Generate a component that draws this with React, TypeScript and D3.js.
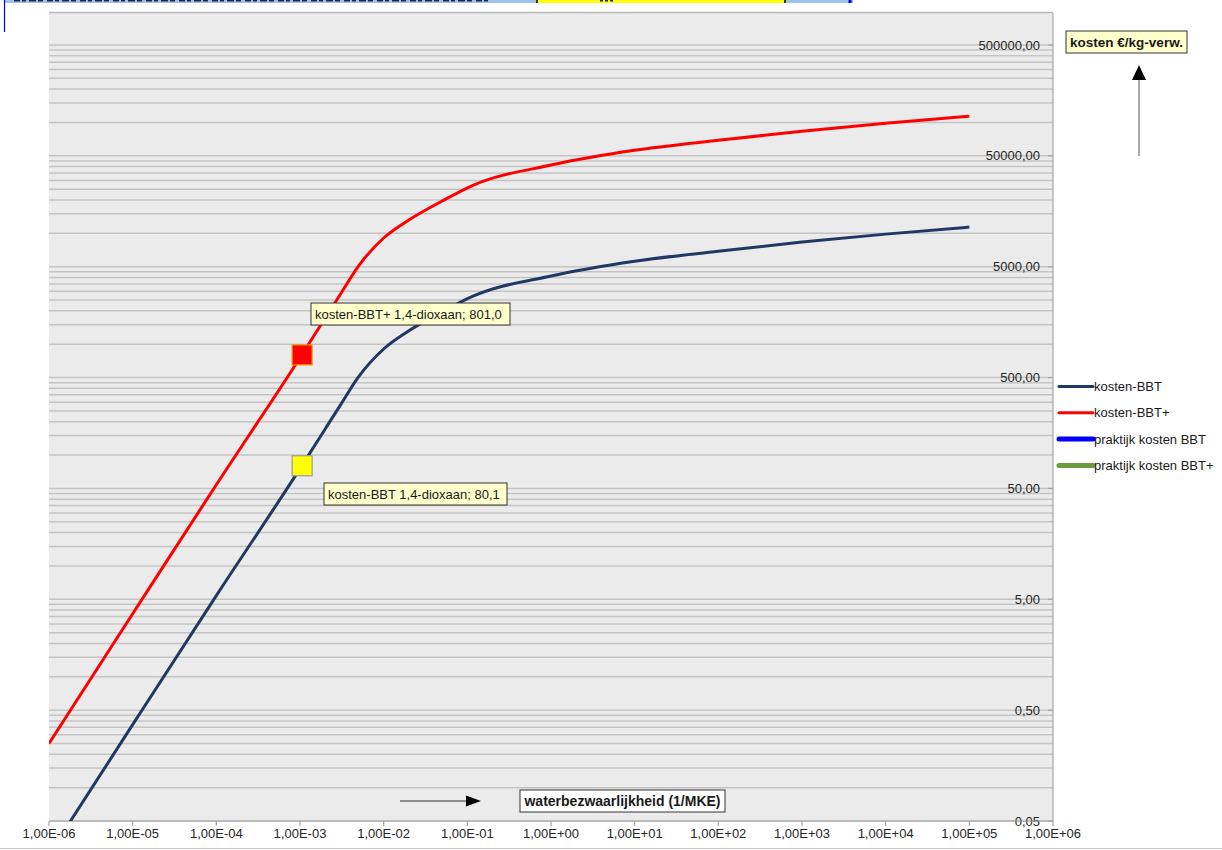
import React from "react";
import * as d3 from "d3";

// ---- data ----
const xValues = [1e-6, 1e-5, 1e-4, 1e-3, 2e-3, 3e-3, 5e-3, 1e-2, 2e-2, 5e-2, 1.15e-1, 1, 10, 100, 1000, 1e4, 1e5];
const kostenBBTplus = [0.25, 3.7, 54, 755, 1722, 2780, 5070, 9075, 13190, 19580, 27000, 41300, 56100, 69000, 83400, 98400, 113800];
const kostenBBT = [0.025, 0.37, 5.4, 75.5, 172, 278, 507, 905, 1320, 1960, 2700, 4130, 5610, 6900, 8340, 9840, 11380];

const markerBBTplus = { x: 1.06e-3, v: 801.0, label: "kosten-BBT+ 1,4-dioxaan; 801,0" };
const markerBBT = { x: 1.06e-3, v: 80.1, label: "kosten-BBT 1,4-dioxaan; 80,1" };

const xTicks = [1e-6, 1e-5, 1e-4, 1e-3, 1e-2, 1e-1, 1, 10, 100, 1000, 1e4, 1e5, 1e6];
const xTickLabels = ["1,00E-06", "1,00E-05", "1,00E-04", "1,00E-03", "1,00E-02", "1,00E-01", "1,00E+00", "1,00E+01", "1,00E+02", "1,00E+03", "1,00E+04", "1,00E+05", "1,00E+06"];
const yTicks = [0.05, 0.5, 5, 50, 500, 5000, 50000, 500000];
const yTickLabels = ["0,05", "0,50", "5,00", "50,00", "500,00", "5000,00", "50000,00", "500000,00"];
const minorFactors = [2, 3, 4, 5, 6, 7, 8, 9];

const legendItems = [
  { label: "kosten-BBT", color: "#1f3864", w: 3 },
  { label: "kosten-BBT+", color: "#ff0000", w: 3 },
  { label: "praktijk kosten BBT", color: "#0000ff", w: 5 },
  { label: "praktijk kosten BBT+", color: "#6a9c3c", w: 5 },
];

const FONT = "'Liberation Sans', Arial, sans-serif";

export default function App() {
  const left = 49, right = 1053, top = 13, bottom = 821;
  const x = d3.scaleLog().domain([1e-6, 1e6]).range([left, right]);
  const y = d3.scaleLog().domain([0.05, 500000]).range([bottom, 45]);

  const line = d3
    .line<[number, number]>()
    .x((d) => x(d[0]))
    .y((d) => y(d[1]))
    .curve(d3.curveMonotoneX);

  const redPts = xValues.map((v, i) => [v, kostenBBTplus[i]] as [number, number]);
  const bluePts = xValues.map((v, i) => [v, kostenBBT[i]] as [number, number]);

  const grid: number[] = [];
  yTicks.forEach((m) => {
    grid.push(m);
    minorFactors.forEach((k) => grid.push(m * k));
  });
  const gridY = grid.map((g) => y(g)).filter((p) => p >= top && p <= bottom);

  const mRx = x(markerBBTplus.x), mRy = y(markerBBTplus.v);
  const mBx = x(markerBBT.x), mBy = y(markerBBT.v);

  return (
    <svg
      width={1222}
      height={850}
      style={{ position: "absolute", left: 0, top: 0, background: "#ffffff" }}
      fontFamily={FONT}
    >
      <defs>
        <clipPath id="plotclip">
          <rect x={left} y={top} width={right - left} height={bottom - top} />
        </clipPath>
      </defs>

      {/* cut-off title strip at top */}
      <rect x={5} y={0} width={848} height={3} fill="#9dc3ec" />
      <rect x={537} y={0} width={248} height={3} fill="#ffff00" />
      <line x1={537} y1={0} x2={537} y2={3} stroke="#000" strokeWidth={1.5} />
      <line x1={785} y1={0} x2={785} y2={3} stroke="#000" strokeWidth={1.5} />
      <line x1={14} y1={0.8} x2={490} y2={0.8} stroke="#1a2a48" strokeWidth={1.5} strokeDasharray="6 2 4 3 7 2 5 4" />
      <line x1={600} y1={0.8} x2={615} y2={0.8} stroke="#1a2a48" strokeWidth={1.5} strokeDasharray="3 2" />
      <line x1={850} y1={0} x2={850} y2={3} stroke="#0000ff" strokeWidth={3} />
      <line x1={4.5} y1={0} x2={4.5} y2={32} stroke="#0000ff" strokeWidth={1.2} />

      {/* plot background */}
      <rect x={left} y={top} width={right - left} height={bottom - top} fill="#ebebeb" />
      <line x1={left} y1={12.5} x2={right} y2={12.5} stroke="#b8b8b8" strokeWidth={1.5} />

      {/* gridlines */}
      {gridY.map((gy, i) => (
        <line key={i} x1={left} x2={right} y1={gy} y2={gy} stroke="#c4c4c4" strokeWidth={1.5} />
      ))}

      {/* y axis right */}
      <line x1={right} y1={top} x2={right} y2={bottom} stroke="#a6a6a6" strokeWidth={1.2} />
      {yTicks.map((t, i) => (
        <g key={t}>
          <line x1={right - 5} x2={right} y1={y(t)} y2={y(t)} stroke="#a6a6a6" strokeWidth={1.2} />
          <text x={right - 13} y={y(t) + 4.5} textAnchor="end" fontSize={13} fill="#262626">
            {yTickLabels[i]}
          </text>
        </g>
      ))}

      {/* x axis */}
      <line x1={left} y1={bottom} x2={right} y2={bottom} stroke="#a6a6a6" strokeWidth={1.2} />
      {xTicks.map((t, i) => (
        <g key={t}>
          <line x1={x(t)} x2={x(t)} y1={bottom} y2={bottom + 5} stroke="#a6a6a6" strokeWidth={1.2} />
          <text x={x(t)} y={bottom + 17} textAnchor="middle" fontSize={13} fill="#262626">
            {xTickLabels[i]}
          </text>
        </g>
      ))}

      {/* series */}
      <g clipPath="url(#plotclip)">
        <path d={line(bluePts) || ""} fill="none" stroke="#1f3864" strokeWidth={3} />
        <path d={line(redPts) || ""} fill="none" stroke="#ff0000" strokeWidth={3} />
      </g>

      {/* markers */}
      <rect x={mRx - 10} y={mRy - 10} width={20} height={20} fill="#ff0000" stroke="#e69a00" strokeWidth={1.2} />
      <rect x={mBx - 10} y={mBy - 10} width={20} height={20} fill="#ffff00" stroke="#9a9a9a" strokeWidth={1.2} />

      {/* data labels */}
      <rect x={311} y={303} width={199} height={22} fill="#ffffcc" stroke="#333" strokeWidth={1} />
      <text x={315} y={318.5} fontSize={13} fill="#1a1a1a">{markerBBTplus.label}</text>
      <rect x={324} y={483} width={183} height={22} fill="#ffffcc" stroke="#333" strokeWidth={1} />
      <text x={328} y={498.5} fontSize={13} fill="#1a1a1a">{markerBBT.label}</text>

      {/* legend */}
      {legendItems.map((it, i) => {
        const ly = 386.5 + i * 26.3;
        return (
          <g key={it.label}>
            <line x1={1059} x2={1093} y1={ly} y2={ly} stroke={it.color} strokeWidth={it.w} strokeLinecap="round" />
            <text x={1094} y={ly + 4.5} fontSize={13} fill="#1a1a1a">{it.label}</text>
          </g>
        );
      })}

      {/* y axis title box with arrow */}
      <rect x={1066} y={31} width={121} height={22} fill="#ffffcc" stroke="#333" strokeWidth={1} />
      <text x={1126.5} y={46.5} textAnchor="middle" fontSize={13.5} fontWeight="bold" fill="#1a1a1a">kosten €/kg-verw.</text>
      <line x1={1139} y1={156} x2={1139} y2={68} stroke="#555" strokeWidth={1} />
      <path d="M1139,65 L1146,80 L1132,80 Z" fill="#000" />

      {/* x axis title box with arrow */}
      <rect x={520} y={790} width={205} height={22} fill="#ffffff" stroke="#333" strokeWidth={1} />
      <text x={622.5} y={805.5} textAnchor="middle" fontSize={14} fontWeight="bold" fill="#1a1a1a">waterbezwaarlijkheid (1/MKE)</text>
      <line x1={400} y1={801} x2={468} y2={801} stroke="#333" strokeWidth={1} />
      <path d="M481,801 L466,795.5 L466,806.5 Z" fill="#000" />

      {/* outer bottom border */}
      <line x1={0} y1={848.5} x2={1222} y2={848.5} stroke="#c8c8c8" strokeWidth={1} />
    </svg>
  );
}
